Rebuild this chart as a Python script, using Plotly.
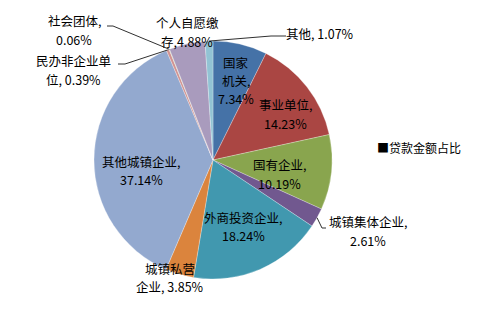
import math
import plotly.graph_objects as go

# ---- data ----
categories = ["国家机关", "事业单位", "国有企业", "城镇集体企业", "外商投资企业",
              "城镇私营企业", "其他城镇企业", "民办非企业单位", "社会团体",
              "个人自愿缴存", "其他"]
shares = [7.34, 14.23, 10.19, 2.61, 18.24, 3.85, 37.14, 0.39, 0.06, 4.88, 1.07]
series_name = "贷款金额占比"
colors = ["#4572A7", "#AA4643", "#89A54E", "#71588F", "#4198AF", "#DB843D",
          "#93A9CF", "#D19392", "#B9CD96", "#A99BBD", "#92C3D4"]

# label text lines per slice (as in the original chart's wrapping)
label_lines = {
    "国家机关": ["国家", "机关,", "{v}"],
    "事业单位": ["事业单位,", "{v}"],
    "国有企业": ["国有企业,", "{v}"],
    "城镇集体企业": ["城镇集体企业,", "{v}"],
    "外商投资企业": ["外商投资企业,", "{v}"],
    "城镇私营企业": ["城镇私营", "企业, {v}"],
    "其他城镇企业": ["其他城镇企业,", "{v}"],
    "民办非企业单位": ["民办非企业单", "位, {v}"],
    "社会团体": ["社会团体,", "{v}"],
    "个人自愿缴存": ["个人自愿缴", "存,{v}"],
    "其他": ["其他, {v}"],
}

# ---- layout geometry (pixels) ----
W, H = 491, 313
CX, CY, R = 213, 160, 119
FONT = "Noto Sans CJK SC, Noto Sans, sans-serif"
LABEL_SIZE = 12.5
LINE_STEP = 18.3

def px(x):
    return x / W

def py(y):
    return 1 - y / H

# label block centres (pixels)
label_pos = {
    "国家机关": (236, 80.5),
    "事业单位": (285, 114),
    "国有企业": (279, 174),
    "城镇集体企业": (368, 231),
    "外商投资企业": (243, 226.5),
    "城镇私营企业": (170, 277.5),
    "其他城镇企业": (141, 170.5),
    "民办非企业单位": (73, 70),
    "社会团体": (74, 30),
    "个人自愿缴存": (187, 32),
    "其他": (320, 33),
}

# leader line label-side points (pixels)
leader_pts = {
    "城镇集体企业": [(322, 228), (326, 228)],
    "其他": [(271, 36), (286, 36)],
    "社会团体": [(113, 26), (107, 26)],
    "民办非企业单位": [(125, 64), (118, 64)],
}

fig = go.Figure()
fig.add_trace(go.Pie(
    labels=categories,
    values=shares,
    name=series_name,
    sort=False,
    direction="clockwise",
    rotation=0,
    textinfo="none",
    hoverinfo="label+percent",
    marker=dict(colors=colors, line=dict(color="rgba(255,255,255,0.45)", width=0.6)),
    domain=dict(x=[px(CX - R), px(CX + R)], y=[py(CY + R), py(CY - R)]),
    showlegend=False,
))

annotations = []
for cat, val in zip(categories, shares):
    x0, yc = label_pos[cat]
    lines = label_lines[cat]
    n = len(lines)
    for i, line in enumerate(lines):
        yy = yc + (i - (n - 1) / 2) * LINE_STEP
        annotations.append(dict(
            x=px(x0), y=py(yy), xref="paper", yref="paper",
            text=line.format(v=f"{val:.2f}%"), showarrow=False,
            xanchor="center", yanchor="middle",
            font=dict(family=FONT, size=LABEL_SIZE, color="#000000"),
        ))

# legend
annotations.append(dict(
    x=px(375), y=py(147), xref="paper", yref="paper",
    text="■" + series_name, showarrow=False, xanchor="left", yanchor="middle",
    font=dict(family=FONT, size=12, color="#000000"),
))

# leader lines from slice midpoints computed from the data
shapes = []
total = sum(shares)
cum = 0.0
for cat, val in zip(categories, shares):
    mid = (cum + val / 2) / total * 2 * math.pi
    cum += val
    if cat not in leader_pts:
        continue
    sx = CX + R * math.sin(mid)
    sy = CY - R * math.cos(mid)
    pts = [(sx, sy)] + leader_pts[cat]
    path = "M " + " L ".join(f"{px(a)} {py(b)}" for a, b in pts)
    shapes.append(dict(type="path", path=path, xref="paper", yref="paper",
                       line=dict(color="#303030", width=1)))

fig.update_layout(
    width=W, height=H,
    margin=dict(l=0, r=0, t=0, b=0),
    paper_bgcolor="white", plot_bgcolor="white",
    annotations=annotations, shapes=shapes,
    font=dict(family=FONT),
)

fig.write_html("out.html")
